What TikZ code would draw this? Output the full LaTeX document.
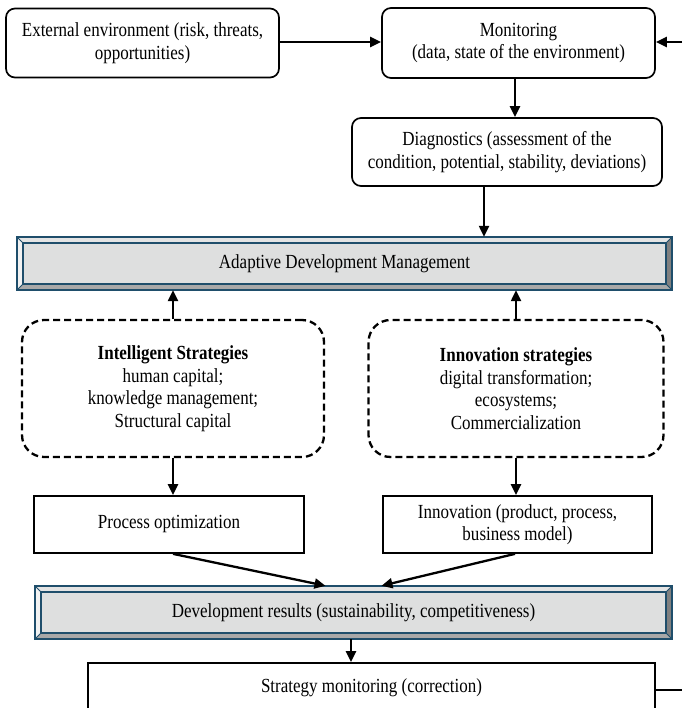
\documentclass[tikz,border=0pt]{standalone}
\usepackage{fontspec}
\setmainfont{Liberation Serif}[FakeStretch=0.85]
\usetikzlibrary{arrows.meta,calc,backgrounds}
\definecolor{bvline}{HTML}{1F4E6B}
\definecolor{bvtop}{HTML}{E4E4E4}
\definecolor{bvleft}{HTML}{F2F2F2}
\definecolor{bvbot}{HTML}{A8A8A8}
\definecolor{bvright}{HTML}{808080}
\definecolor{bvin}{HTML}{DEDFDF}
\newcommand\bevelbox[1]{%
  \begin{pgfonlayer}{background}
    \coordinate (#1-a) at (#1.north west);
    \coordinate (#1-b) at (#1.north east);
    \coordinate (#1-c) at (#1.south east);
    \coordinate (#1-d) at (#1.south west);
    \coordinate (#1-A) at ($(#1.north west)+(6,6)$);
    \coordinate (#1-B) at ($(#1.north east)+(-6,6)$);
    \coordinate (#1-C) at ($(#1.south east)+(-6,-6)$);
    \coordinate (#1-D) at ($(#1.south west)+(6,-6)$);
    \fill[bvtop] (#1-a) -- (#1-b) -- (#1-B) -- (#1-A) -- cycle;
    \fill[bvleft] (#1-a) -- (#1-A) -- (#1-D) -- (#1-d) -- cycle;
    \fill[bvbot] (#1-d) -- (#1-D) -- (#1-C) -- (#1-c) -- cycle;
    \fill[bvright] (#1-b) -- (#1-c) -- (#1-C) -- (#1-B) -- cycle;
    \fill[bvin] (#1-A) rectangle (#1-C);
    \draw[bvline,line width=1.5pt] (#1-a) rectangle (#1-c) (#1-A) rectangle (#1-C);
    \draw[bvline,line width=1pt] (#1-a) -- (#1-A) (#1-b) -- (#1-B) (#1-c) -- (#1-C) (#1-d) -- (#1-D);
  \end{pgfonlayer}}
\begin{document}
\begin{tikzpicture}[x=1pt,y=-1pt,
  every node/.style={font=\fontsize{20}{22.5}\selectfont,align=center,inner sep=0pt},
  rbox/.style={draw,line width=1.7pt,rounded corners=9pt},
  sbox/.style={draw,line width=1.7pt},
  dbox/.style={draw,line width=2.3pt,dash pattern=on 7pt off 4pt,rounded corners=22pt},
  arr/.style={line width=2.3pt,-{Triangle[length=11pt,width=10pt]}},
  ln/.style={line width=2.3pt}]
\clip (0,0) rectangle (682,708);
\node[rbox,minimum width=273pt,minimum height=69pt] (ext) at (142.5,43) {External environment (risk, threats,\\opportunities)};
\node[rbox,minimum width=273pt,minimum height=70pt] (mon) at (518.5,43) {Monitoring\\(data, state of the environment)};
\node[rbox,minimum width=310pt,minimum height=68pt] (diag) at (507,152) {Diagnostics (assessment of the\\condition, potential, stability, deviations)};
\node[minimum width=655pt,minimum height=53pt] (adm) at (344.5,263.5) {Adaptive Development Management};
\bevelbox{adm}
\node[dbox,minimum width=302pt,minimum height=137pt] (ist) at (173,388.5) {\textbf{Intelligent Strategies}\\human capital;\\knowledge management;\\Structural capital};
\node[dbox,minimum width=295pt,minimum height=137pt] (inst) at (516,388.5) {\textbf{Innovation strategies}\\digital transformation;\\ecosystems;\\Commercialization};
\node[sbox,minimum width=270pt,minimum height=57pt] (proc) at (169,524.5) {Process optimization};
\node[sbox,minimum width=269pt,minimum height=57pt] (inno) at (517.5,524.5) {Innovation (product, process,\\business model)};
\node[minimum width=637pt,minimum height=53pt] (dev) at (353.5,612.5) {Development results (sustainability, competitiveness)};
\bevelbox{dev}
\node[sbox,minimum width=567pt,minimum height=50pt] (strat) at (371.5,688) {Strategy monitoring (correction)};
\coordinate (fbi) at (682,42);
\coordinate (fbo) at (682,690);
% connectors
\draw[arr] (ext.east |- fbi) -- (fbi -| mon.west);
\draw[arr] (fbi) -- (fbi -| mon.east);
\draw[arr] ([xshift=-3.5pt]mon.south) -- ([xshift=-3.5pt]mon.south |- diag.north);
\draw[arr] ([xshift=-23pt]diag.south) -- ([xshift=-23pt]diag.south |- adm.north);
\draw[arr] (ist.north) -- (ist.north |- adm.south);
\draw[arr] (inst.north) -- (inst.north |- adm.south);
\draw[arr] (ist.south) -- (ist.south |- proc.north);
\draw[arr] (inst.south) -- (inst.south |- inno.north);
\draw[arr] ([xshift=4pt]proc.south) -- ([xshift=-28pt]dev.north);
\draw[arr] ([xshift=-2.5pt]inno.south) -- ([xshift=28pt]dev.north);
\draw[arr] ([xshift=-2.5pt]dev.south) -- ([xshift=-2.5pt]dev.south |- strat.north);
\draw[ln] (strat.east |- fbo) -- (fbo);
\end{tikzpicture}
\end{document}
